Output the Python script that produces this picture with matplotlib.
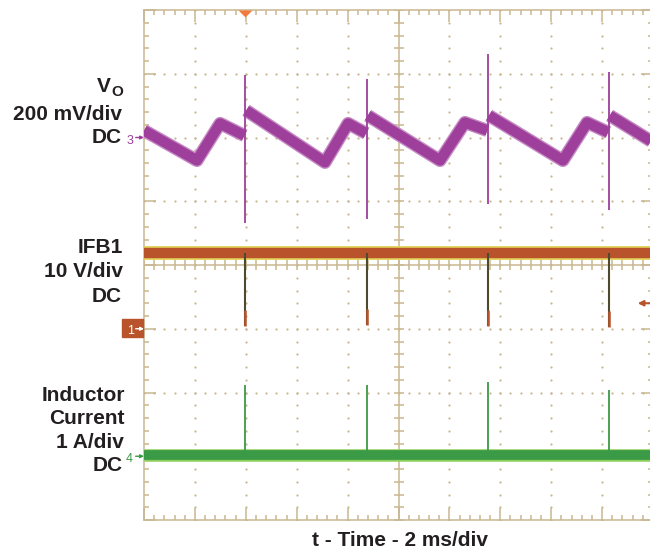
import numpy as np
import matplotlib
matplotlib.use('Agg')
import matplotlib.pyplot as plt
from matplotlib.patches import Rectangle

# switching events (ms), same instant on all three channels
spike_t = [3.98, 8.76, 13.52, 18.27]

# Vo ripple in mV, relative to the channel 3 marker (NaN = break at the spike)
vo_t = [0.0, 2.08, 2.99, 3.95, np.nan,
        4.01, 7.11, 8.02, 8.73, np.nan,
        8.79, 11.63, 12.61, 13.49, np.nan,
        13.55, 16.46, 17.41, 18.24, np.nan,
        18.30, 20.0]
vo_mv = [22, -72, 44, 6, np.nan,
         85, -78, 44, 13, np.nan,
         69, -72, 47, 22, np.nan,
         69, -72, 47, 16, np.nan,
         69, -15]
vo_spike_top = [195, 185, 263, 207]
vo_spike_bot = [-267, -257, -210, -226]

# IFB1 in V, relative to the channel 1 marker
ifb_t = [0.0, 20.0]
ifb_v = [11.9, 11.9]
ifb_drop_low = [0.5, 0.6, 0.5, 0.3]

# inductor current in A, relative to the channel 4 marker
il_t = [0.0, 20.0]
il_a = [0.02, 0.02]
il_spike_top = [1.11, 1.11, 1.16, 1.04]

# channel setup: marker position (div) and scale per div
VO_REF, VO_SCALE = 2.0, 200.0
IFB_REF, IFB_SCALE = -1.0, 10.0
IL_REF, IL_SCALE = -3.0, 1.0
TRIG_LEVEL = 4.0  # V on IFB1

W, H = 650, 550
TAN = '#c7b791'
PURPLE = '#9e3f9c'
ORANGE = '#b8532b'
GREEN = '#3b9a45'
TEXT = '#231f20'
FONT = 'Liberation Sans'


def fx(x):
    return x / W


def fy(y):
    return 1 - y / H


def div(vals, ref, scale):
    return ref + np.asarray(vals, dtype=float) / scale


fig = plt.figure(figsize=(W / 100, H / 100), dpi=100)
ax = fig.add_axes([fx(144), fy(520), 509 / W, 510 / H])
ax.set_xlim(0, 20)
ax.set_ylim(-4, 4)

# scope graticule
for s in ax.spines.values():
    s.set_color(TAN)
    s.set_linewidth(1.1)
ax.set_xticks(np.arange(0, 21, 2))
ax.set_xticks(np.arange(0, 20.01, 0.4), minor=True)
ax.set_yticks(np.arange(-4, 5, 1))
ax.set_yticks(np.arange(-4, 4.01, 0.2), minor=True)
ax.tick_params(which='both', direction='in', top=True, right=True,
               labelbottom=False, labelleft=False, color=TAN, width=1.1)
ax.tick_params(which='major', length=8.5)
ax.tick_params(which='minor', length=3.6)

minor_x = np.arange(0, 20.01, 0.4)
minor_y = np.arange(-4, 4.01, 0.2)
for gx in range(2, 20, 2):
    if gx == 10:
        continue
    ax.plot(np.full(len(minor_y), gx), minor_y, ls='none', marker='o', ms=1.6,
            mew=0, color=TAN, zorder=1)
for gy in [-3, -2, -1, 1, 2, 3]:
    ax.plot(minor_x, np.full(len(minor_x), gy), ls='none', marker='o', ms=1.6,
            mew=0, color=TAN, zorder=1)
ax.axvline(10, color=TAN, lw=1.1, zorder=1)
ax.axhline(0, color=TAN, lw=1.1, zorder=1)
ax.plot(np.full(len(minor_y), 10), minor_y, ls='none', marker='_', ms=7, mew=1.1,
        color=TAN, zorder=1)
ax.plot(minor_x, np.zeros(len(minor_x)), ls='none', marker='|', ms=7, mew=1.1,
        color=TAN, zorder=1)

# Vo
vo_y = div(vo_mv, VO_REF, VO_SCALE)
ax.plot(vo_t, vo_y, color='#c58ac3', lw=9.5, solid_capstyle='butt', zorder=3)
ax.plot(vo_t, vo_y, color=PURPLE, lw=7.5, solid_capstyle='butt', zorder=3)
ax.vlines(spike_t, div(vo_spike_bot, VO_REF, VO_SCALE), div(vo_spike_top, VO_REF, VO_SCALE),
          color=PURPLE, lw=1.3, zorder=3)

# IFB1
ifb_y = div(ifb_v, IFB_REF, IFB_SCALE)
ax.plot(ifb_t, ifb_y, color='#e3d45a', lw=10, solid_capstyle='butt', zorder=3)
ax.plot(ifb_t, ifb_y, color=ORANGE, lw=7.5, solid_capstyle='butt', zorder=3)
low = div(ifb_drop_low, IFB_REF, IFB_SCALE)
ax.vlines(spike_t, low, ifb_y[0], color='#4d4a2e', lw=1.5, zorder=4)
ax.vlines(spike_t, low, low + 0.25, color=ORANGE, lw=1.8, zorder=4)

# inductor current
il_y = div(il_a, IL_REF, IL_SCALE)
ax.plot(il_t, il_y, color='#8ccf5a', lw=9, solid_capstyle='butt', zorder=3)
ax.plot(il_t, il_y, color=GREEN, lw=7, solid_capstyle='butt', zorder=3)
ax.vlines(spike_t, il_y[0], div(il_spike_top, IL_REF, IL_SCALE),
          color=GREEN, lw=1.3, zorder=3)

# trigger position and level markers
ax.plot([spike_t[0]], [4], marker=[(-1, 0), (1, 0), (0, -1)], ms=10, mew=0,
        color='#f27a3a', clip_on=False, zorder=5)
trig = IFB_REF + TRIG_LEVEL / IFB_SCALE
ax.annotate('', xy=(19.4, trig), xytext=(19.95, trig),
            arrowprops=dict(arrowstyle='-|>', color=ORANGE, lw=1.5,
                            mutation_scale=8, shrinkA=0, shrinkB=0))

# channel markers at the left edge
for num, ref, col, base in [('3', VO_REF, PURPLE, 144), ('4', IL_REF, GREEN, 462)]:
    ax.annotate('', xy=(0, ref), xycoords=ax.get_yaxis_transform(),
                xytext=(-6, 0), textcoords='offset points', annotation_clip=False,
                arrowprops=dict(arrowstyle='-|>', color=col, lw=1, mutation_scale=5,
                                shrinkA=0, shrinkB=0))
    fig.text(fx(133), fy(base), num, ha='right', va='baseline', fontsize=9,
             color=col, family=FONT)

ax.add_patch(Rectangle((fx(122), fy(337)), 21 / W, 18 / H, transform=fig.transFigure,
                       color=ORANGE, clip_on=False, zorder=6))
fig.text(fx(134), fy(334), '1', ha='right', va='baseline', fontsize=9,
         color='white', family=FONT, zorder=7)
ax.annotate('', xy=(0, IFB_REF), xycoords=ax.get_yaxis_transform(),
            xytext=(-6, 0), textcoords='offset points', annotation_clip=False,
            arrowprops=dict(arrowstyle='-|>', color='white', lw=1, mutation_scale=5,
                            shrinkA=0, shrinkB=0), zorder=7)

# channel labels
labels = [
    ('200 mV/div', 122, 120), ('DC', 122, 143),
    ('IFB1', 123, 253), ('10 V/div', 123, 277), ('DC', 122, 302),
    ('Inductor', 125, 401), ('Current', 125, 424), ('1 A/div', 124, 448), ('DC', 123, 471),
]
for txt, xr, yb in labels:
    fig.text(fx(xr), fy(yb), txt, ha='right', va='baseline', fontsize=15,
             fontweight='bold', color=TEXT, family=FONT)
fig.text(fx(111), fy(92), 'V', ha='right', va='baseline', fontsize=15,
         fontweight='bold', color=TEXT, family=FONT)
fig.text(fx(123), fy(96), 'O', ha='right', va='baseline', fontsize=11,
         fontweight='bold', color=TEXT, family=FONT)

fig.text(fx(400), fy(546), 't - Time - 2 ms/div', ha='center', va='baseline',
         fontsize=15, fontweight='bold', color=TEXT, family=FONT)

fig.savefig('out.png', dpi=100)
